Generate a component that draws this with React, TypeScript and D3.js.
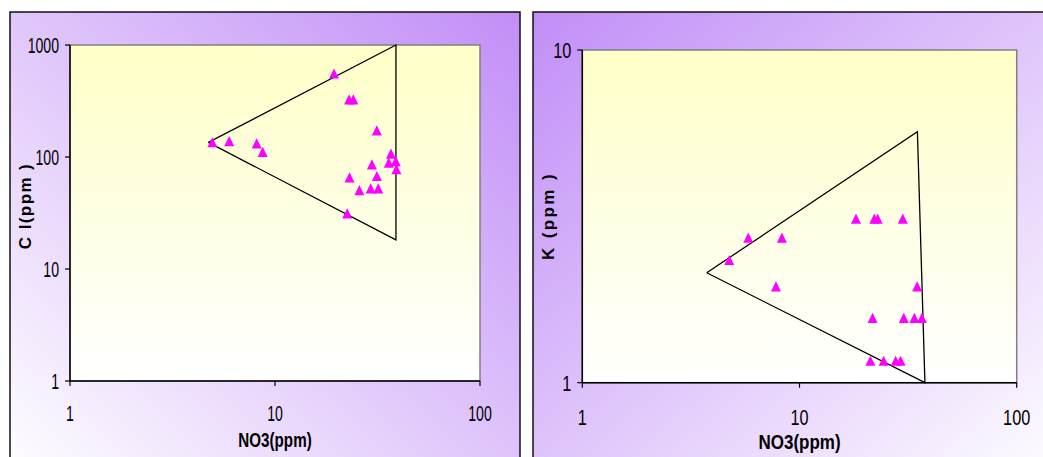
import React from "react";
import * as d3 from "d3";

// ---------- Data ----------
// Left panel: Cl vs NO3
const clNO3 = [4.95, 5.98, 8.14, 8.71, 19.4, 23.0, 24.1, 31.4, 36.8, 35.9, 38.8, 39.1, 29.7, 31.4, 23.1, 25.8, 29.3, 31.9, 22.5];
const clValues = [134, 137, 131, 110, 551, 323, 323, 171, 106, 88, 91, 77, 85, 67, 65, 50, 52, 52, 31];
const clEnvNO3 = [4.73, 38.9, 38.9, 4.73];
const clEnvCl = [135, 1000, 18.2, 135];
const clYTicks = [1, 10, 100, 1000];

// Right panel: K vs NO3
const kNO3 = [4.75, 5.81, 8.3, 7.79, 18.2, 22.1, 22.9, 29.9, 34.8, 21.7, 30.2, 33.8, 36.6, 21.2, 24.4, 27.7, 29.2];
const kValues = [2.33, 2.72, 2.72, 1.94, 3.1, 3.1, 3.1, 3.1, 1.94, 1.56, 1.56, 1.56, 1.56, 1.16, 1.16, 1.16, 1.16];
const kEnvNO3 = [3.74, 34.9, 37.8, 3.74];
const kEnvK = [2.14, 5.68, 1.0, 2.14];
const kYTicks = [1, 10];

const xTicks = [1, 10, 100];

const FONT = "'Liberation Sans', Arial, sans-serif";

type PanelProps = {
  id: string;
  frame: { x: number; y: number; w: number; h: number };
  gradDir: [number, number, number, number];
  plot: { x0: number; x1: number; y0: number; y1: number };
  yDomain: [number, number];
  yTicks: number[];
  xs: number[];
  ys: number[];
  envX: number[];
  envY: number[];
  yTitle: string;
  yTitleX: number;
  yTitleY: number;
  yTitleSpacing: number;
  tickFont: number;
  tickScale: number;
  xTickBase: number;
  xTitleFont: number;
  xTitleScale: number;
  xTitleBase: number;
};

function Label({ x, y, s, size, anchor, bold, text }: any) {
  return (
    <g transform={`translate(${x},${y}) scale(${s},1)`}>
      <text
        textAnchor={anchor}
        fontFamily={FONT}
        fontSize={size}
        fontWeight={bold ? "bold" : "normal"}
        fill="#000"
      >
        {text}
      </text>
    </g>
  );
}

function Panel(p: PanelProps) {
  const x = d3.scaleLog().domain([1, 100]).range([p.plot.x0, p.plot.x1]);
  const y = d3.scaleLog().domain(p.yDomain).range([p.plot.y1, p.plot.y0]);
  const env = d3
    .line<number>()
    .x((_, i) => x(p.envX[i]))
    .y((_, i) => y(p.envY[i]))(p.envX);
  const tri = "M0,-5.6L5,4.6L-5,4.6Z";
  const [gx1, gy1, gx2, gy2] = p.gradDir;
  return (
    <g>
      <defs>
        <linearGradient id={`frame-${p.id}`} x1={gx1} y1={gy1} x2={gx2} y2={gy2}>
          <stop offset="0" stopColor="#c18ef7" />
          <stop offset="1" stopColor="#ffffff" />
        </linearGradient>
        <linearGradient id={`plot-${p.id}`} x1="0" y1="0" x2="0" y2="1">
          <stop offset="0" stopColor="#ffffc8" />
          <stop offset="1" stopColor="#ffffff" />
        </linearGradient>
      </defs>
      <rect
        x={p.frame.x}
        y={p.frame.y}
        width={p.frame.w}
        height={p.frame.h}
        fill={`url(#frame-${p.id})`}
        stroke="#111"
        strokeWidth={1.5}
      />
      <rect
        x={p.plot.x0}
        y={p.plot.y0}
        width={p.plot.x1 - p.plot.x0}
        height={p.plot.y1 - p.plot.y0}
        fill={`url(#plot-${p.id})`}
        stroke="#808080"
        strokeWidth={1.5}
      />
      {/* axes */}
      <line x1={p.plot.x0} y1={p.plot.y0} x2={p.plot.x0} y2={p.plot.y1} stroke="#000" strokeWidth={1.5} />
      <line x1={p.plot.x0} y1={p.plot.y1} x2={p.plot.x1} y2={p.plot.y1} stroke="#000" strokeWidth={1.5} />
      {xTicks.map((t) => (
        <g key={`xt${t}`}>
          <line x1={x(t)} x2={x(t)} y1={p.plot.y1} y2={p.plot.y1 + 5} stroke="#000" strokeWidth={1.2} />
          <Label x={x(t)} y={p.xTickBase} s={p.tickScale} size={p.tickFont} anchor="middle" text={String(t)} />
        </g>
      ))}
      {p.yTicks.map((t) => (
        <g key={`yt${t}`}>
          <line x1={p.plot.x0 - 5} x2={p.plot.x0} y1={y(t)} y2={y(t)} stroke="#000" strokeWidth={1.2} />
          <Label
            x={p.plot.x0 - 11}
            y={y(t) + 8}
            s={p.tickScale}
            size={p.tickFont}
            anchor="end"
            text={String(t)}
          />
        </g>
      ))}
      {/* envelope */}
      <path d={env || ""} fill="none" stroke="#000" strokeWidth={1.3} />
      {/* points */}
      {p.xs.map((v, i) => (
        <path key={i} d={tri} transform={`translate(${x(v)},${y(p.ys[i])})`} fill="#ff00ff" />
      ))}
      {/* titles */}
      <Label
        x={(p.plot.x0 + p.plot.x1) / 2}
        y={p.xTitleBase}
        s={p.xTitleScale}
        size={p.xTitleFont}
        anchor="middle"
        bold
        text="NO3(ppm)"
      />
      <text
        transform={`translate(${p.yTitleX},${p.yTitleY}) rotate(-90)`}
        textAnchor="middle"
        fontFamily={FONT}
        fontSize={17}
        fontWeight="bold"
        letterSpacing={p.yTitleSpacing}
      >
        {p.yTitle}
      </text>
    </g>
  );
}

export default function App() {
  return (
    <svg
      width={1043}
      height={457}
      style={{ position: "absolute", left: 0, top: 0, background: "#fff" }}
    >
      <Panel
        id="cl"
        frame={{ x: 10, y: 12, w: 510, h: 470 }}
        gradDir={[1, 0, 0, 1]}
        plot={{ x0: 70, x1: 480, y0: 45, y1: 381 }}
        yDomain={[1, 1000]}
        yTicks={clYTicks}
        xs={clNO3}
        ys={clValues}
        envX={clEnvNO3}
        envY={clEnvCl}
        yTitle="C l(ppm )"
        yTitleX={31}
        yTitleY={206}
        yTitleSpacing={1.4}
        tickFont={22}
        tickScale={0.64}
        xTickBase={421}
        xTitleFont={20}
        xTitleScale={0.76}
        xTitleBase={447}
      />
      <Panel
        id="k"
        frame={{ x: 533, y: 12, w: 530, h: 470 }}
        gradDir={[0, 0, 1, 1]}
        plot={{ x0: 582.3, x1: 1016.7, y0: 50, y1: 382.7 }}
        yDomain={[1, 10]}
        yTicks={kYTicks}
        xs={kNO3}
        ys={kValues}
        envX={kEnvNO3}
        envY={kEnvK}
        yTitle="K (ppm )"
        yTitleX={554}
        yTitleY={216}
        yTitleSpacing={2.4}
        tickFont={22}
        tickScale={0.74}
        xTickBase={425}
        xTitleFont={20}
        xTitleScale={0.85}
        xTitleBase={449}
      />
    </svg>
  );
}
